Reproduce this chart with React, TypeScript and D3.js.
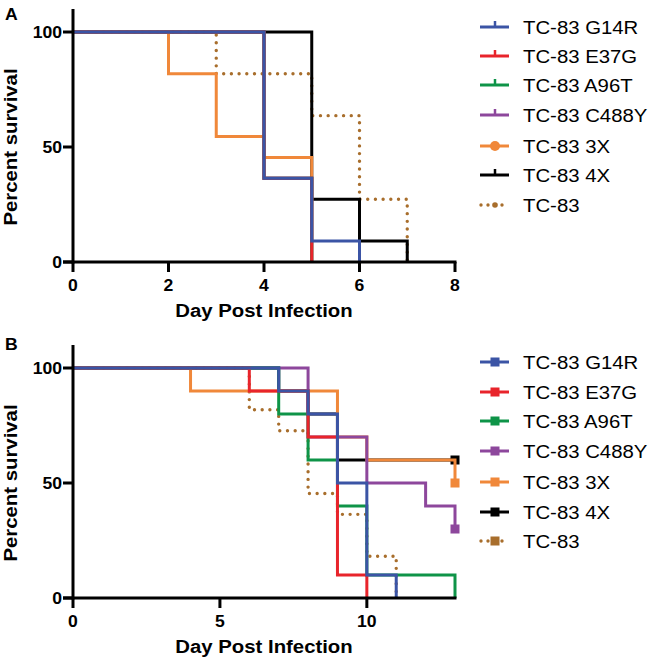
import React from "react";
import * as d3 from "d3";

const seriesNames = ["TC-83 G14R", "TC-83 E37G", "TC-83 A96T", "TC-83 C488Y", "TC-83 3X", "TC-83 4X", "TC-83"];
const seriesColors = ["#3B54A5", "#E8242B", "#0E9448", "#8D479C", "#F0883A", "#000000", "#A86E2C"];
const seriesDotted = [false, false, false, false, false, false, true];

// Panel A (n = 11): [day, percent survival]
const aG14R = [[0, 100], [4, 36.36], [5, 9.09], [6, 0]];
const aE37G = [[0, 100], [4, 36.36], [5, 0]];
const aA96T = [[0, 100], [4, 36.36], [5, 0]];
const aC488Y = [[0, 100], [4, 36.36], [5, 0]];
const a3X = [[0, 100], [2, 81.82], [3, 54.55], [4, 45.45], [5, 0]];
const a4X = [[0, 100], [5, 27.27], [6, 9.09], [7, 0]];
const aTC83 = [[0, 100], [3, 81.82], [5, 63.64], [6, 27.27], [7, 0]];
const panelAData = [aG14R, aE37G, aA96T, aC488Y, a3X, a4X, aTC83];
const panelACensored: number[][][] = [[], [], [], [], [], [], []];
const panelAXTicks = [0, 2, 4, 6, 8];
const panelAXMax = 8;

// Panel B (n = 10, TC-83 n = 11)
const bG14R = [[0, 100], [7, 90], [8, 80], [9, 50], [10, 10], [11, 0]];
const bE37G = [[0, 100], [6, 90], [8, 70], [9, 10], [10, 0]];
const bA96T = [[0, 100], [7, 80], [8, 60], [9, 40], [10, 10], [13, 0]];
const bC488Y = [[0, 100], [8, 70], [10, 50], [12, 40], [13, 30]];
const b3X = [[0, 100], [4, 90], [9, 70], [10, 60], [13, 50]];
const b4X = [[0, 100], [7, 90], [8, 80], [9, 60], [13, 60]];
const bTC83 = [[0, 100], [6, 81.82], [7, 72.73], [8, 45.45], [9, 36.36], [10, 18.18], [11, 0]];
const panelBData = [bG14R, bE37G, bA96T, bC488Y, b3X, b4X, bTC83];
const panelBCensored: number[][][] = [[], [], [], [[13, 30]], [[13, 50]], [[13, 60]], []];
const panelBXTicks = [0, 5, 10];
const panelBXMax = 13;

const yTicks = [0, 50, 100];
const yMax = 110;

const FONT = "'Liberation Sans', Arial, Helvetica, sans-serif";
const SX = 1.1;

function T({ x, y, size, weight = "normal", anchor = "start", rot = 0, children }: any) {
  return (
    <text
      transform={`translate(${x},${y}) rotate(${rot}) scale(${SX},1)`}
      fontSize={size}
      fontWeight={weight}
      fontFamily={FONT}
      textAnchor={anchor}
      fill="#000"
    >
      {children}
    </text>
  );
}

function Panel({ top, bottom, letter, letterY, data, censored, xTicks, xMax, legendY, legendStyle }: any) {
  const x = d3.scaleLinear().domain([0, xMax]).range([73, 455]);
  const y = d3.scaleLinear().domain([0, yMax]).range([bottom, top]);
  const line = d3
    .line<number[]>()
    .x((d) => x(d[0]))
    .y((d) => y(d[1]))
    .curve(d3.curveStepAfter);
  const order = d3.range(seriesNames.length).reverse();
  const sq = 9;
  return (
    <g>
      <T x={5} y={letterY} size={16} weight="bold">{letter}</T>
      {/* series */}
      {order.map((i) => (
        <g key={i}>
          <path
            d={line(data[i] as any) || ""}
            fill="none"
            stroke={seriesColors[i]}
            strokeWidth={seriesDotted[i] ? 3.4 : 3}
            strokeDasharray={seriesDotted[i] ? "0 7.7" : undefined}
            strokeLinecap={seriesDotted[i] ? "round" : "butt"}
          />
          {censored[i].map((c: number[], k: number) => (
            <rect key={k} x={x(c[0]) - sq / 2} y={y(c[1]) - sq / 2} width={sq} height={sq} fill={seriesColors[i]} />
          ))}
        </g>
      ))}
      {/* axes */}
      <line x1={73} x2={73} y1={top} y2={bottom + 1.5} stroke="#000" strokeWidth={3} />
      <line x1={63} x2={456.5} y1={bottom} y2={bottom} stroke="#000" strokeWidth={3} />
      {yTicks.map((t) => (
        <g key={t}>
          <line x1={63} x2={73} y1={y(t)} y2={y(t)} stroke="#000" strokeWidth={3} />
          <T x={62} y={y(t) + 5.8} size={16} weight="bold" anchor="end">{t}</T>
        </g>
      ))}
      {xTicks.map((t: number) => (
        <g key={t}>
          <line x1={x(t)} x2={x(t)} y1={bottom} y2={bottom + 10} stroke="#000" strokeWidth={3} />
          <T x={x(t)} y={bottom + 29} size={16} weight="bold" anchor="middle">{t}</T>
        </g>
      ))}
      <T x={264} y={bottom + 55} size={18.5} weight="bold" anchor="middle">Day Post Infection</T>
      <T x={17} y={(y(0) + y(100)) / 2} size={18.5} weight="bold" anchor="middle" rot={-90}>Percent survival</T>
      {/* legend */}
      {seriesNames.map((name, i) => {
        const ly = legendY[i];
        const c = seriesColors[i];
        const dotted = seriesDotted[i];
        let marker: any = null;
        if (legendStyle === "A") {
          if (i === 4) marker = <circle cx={495} cy={ly} r={5} fill={c} />;
          else if (dotted) marker = <circle cx={495} cy={ly} r={2.8} fill={c} />;
          else marker = <line x1={495} x2={495} y1={ly - 6} y2={ly} stroke={c} strokeWidth={2.5} />;
        } else {
          marker = <rect x={495 - 4.5} y={ly - 4.5} width={9} height={9} fill={c} />;
        }
        return (
          <g key={name}>
            <line
              x1={dotted ? 481 : 480}
              x2={509}
              y1={ly}
              y2={ly}
              stroke={c}
              strokeWidth={dotted ? 3.4 : 3}
              strokeDasharray={dotted ? "0 7" : undefined}
              strokeLinecap={dotted ? "round" : "butt"}
            />
            {marker}
            <T x={523} y={ly + 6.7} size={18.5}>{name}</T>
          </g>
        );
      })}
    </g>
  );
}

const legendAY = [27, 56, 85, 115, 146, 175, 205];
const legendBY = [362, 392, 421, 451, 482, 512, 541];

export default function App() {
  return (
    <div style={{ position: "absolute", left: 0, top: 0 }}>
      <svg width={655} height={660} style={{ display: "block", background: "#fff" }}>
        <rect width={655} height={660} fill="#fff" />
        <Panel
          top={9}
          bottom={262}
          letter="A"
          letterY={20}
          data={panelAData}
          censored={panelACensored}
          xTicks={panelAXTicks}
          xMax={panelAXMax}
          legendY={legendAY}
          legendStyle="A"
        />
        <Panel
          top={345}
          bottom={598}
          letter="B"
          letterY={350}
          data={panelBData}
          censored={panelBCensored}
          xTicks={panelBXTicks}
          xMax={panelBXMax}
          legendY={legendBY}
          legendStyle="B"
        />
      </svg>
    </div>
  );
}
